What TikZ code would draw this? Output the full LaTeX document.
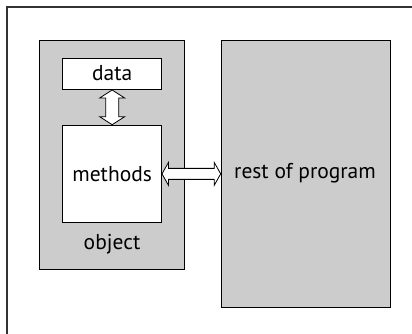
\documentclass[tikz,border=0pt]{standalone}
\usepackage{fontspec}
\setmainfont{PT Sans}
\usetikzlibrary{calc}
\definecolor{boxgray}{HTML}{CCCCCC}
\definecolor{framegray}{HTML}{333333}
\begin{document}
\begin{tikzpicture}[x=1pt,y=-1pt,
  graybox/.style={draw=black,line width=1pt,fill=boxgray,inner sep=0pt,anchor=north west},
  whitebox/.style={draw=black,line width=1pt,fill=white,inner sep=0pt,anchor=north west},
  lbl/.style={font=\fontsize{21.5}{24}\selectfont,inner sep=0pt},
  fatarrow/.style={draw=black,line width=0.8pt,fill=white,line join=miter}]
\useasboundingbox (0,0) rectangle (412,334);
\fill[white] (0,0) rectangle (412,334);
\coordinate (ftop) at (412,7);
\coordinate (fcorner) at (7,7);
\coordinate (fbot) at (7,334);
\draw[framegray,line width=1.6pt] (ftop) -- (fcorner) -- (fbot);
\node[graybox,minimum width=145.6pt,minimum height=229.3pt] (object) at (38.7,40) {};
\node[graybox,minimum width=169.6pt,minimum height=266.7pt] (rest) at (220.7,40) {};
\node[whitebox,minimum width=98.7pt,minimum height=31.3pt] (data) at (62.3,57.7) {};
\node[whitebox,minimum width=98.7pt,minimum height=97.3pt] (methods) at (62.3,124.7) {};
\node[lbl] (datat) at ($(data.center)+(0,-0.5)$) {data};
\node[lbl] (methodst) at ($(methods.center)+(0,0)$) {methods};
\node[lbl] (objectt) at (112,244) {object};
\node[lbl] (restt) at (305,173) {rest of program};
% vertical double arrow data <-> methods
\draw[fatarrow]
  ($(data.south)$) -- ++(12.5,8) -- ++(-6,0) -- ($(methods.north)+(6.5,-8)$)
  -- ++(6,0) -- (methods.north) -- ++(-12.5,-8) -- ++(6,0)
  -- ($(data.south)+(-6.5,8)$) -- ++(-6,0) -- cycle;
% horizontal double arrow methods <-> rest
\coordinate (hl) at ($(methods.east)+(0,0)$);
\coordinate (hr) at ($(rest.west |- hl)$);
\draw[fatarrow]
  (hl) -- ++(6.5,-11.5) -- ++(0,6) -- ($(hr)+(-6.5,-5.5)$) -- ++(0,-6)
  -- (hr) -- ++(-6.5,11.5) -- ++(0,-6) -- ($(hl)+(6.5,5.5)$) -- ++(0,6) -- cycle;
\end{tikzpicture}
\end{document}
